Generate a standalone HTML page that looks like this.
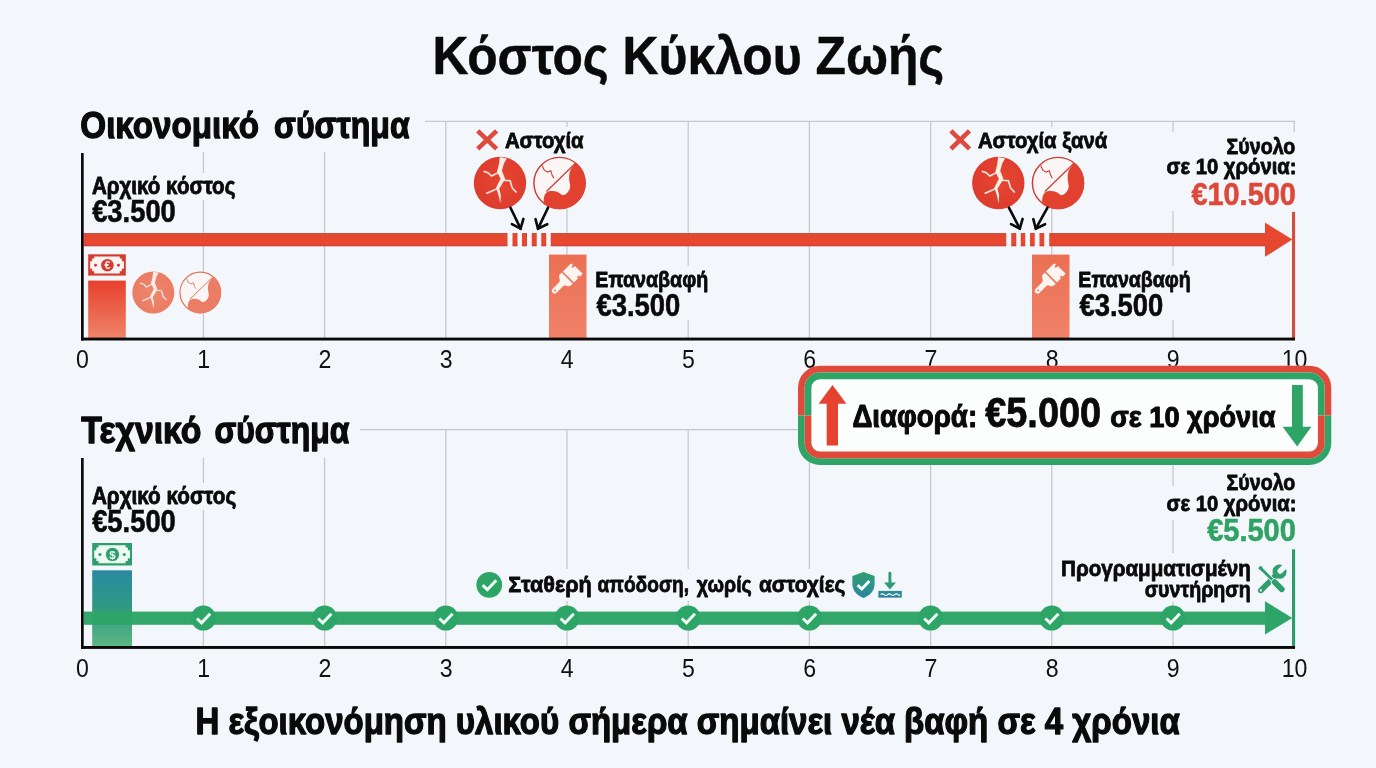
<!DOCTYPE html>
<html lang="el">
<head>
<meta charset="utf-8">
<title>Κόστος Κύκλου Ζωής</title>
<style>
html,body{margin:0;padding:0;background:#F3F6FB;}
body{width:1376px;height:768px;overflow:hidden;font-family:"Liberation Sans",sans-serif;}
svg{display:block;}
svg text{font-family:"Liberation Sans",sans-serif;}
</style>
</head>
<body>
<svg width="1376" height="768" viewBox="0 0 1376 768">
<defs>
<linearGradient id="gBar1" x1="0" y1="0" x2="0" y2="1"><stop offset="0" stop-color="#E73F2D"/><stop offset="1" stop-color="#EF8468"/></linearGradient>
<linearGradient id="gRep" x1="0" y1="0" x2="0" y2="1"><stop offset="0" stop-color="#EB6F53"/><stop offset="1" stop-color="#F08268"/></linearGradient>
<linearGradient id="gTeal" x1="0" y1="0" x2="0" y2="1"><stop offset="0" stop-color="#2B89A2"/><stop offset="0.5" stop-color="#2F9A80"/><stop offset="1" stop-color="#5DB684"/></linearGradient>
<linearGradient id="gShield" x1="0" y1="0" x2="0" y2="1"><stop offset="0" stop-color="#2FA070"/><stop offset="1" stop-color="#2C84A4"/></linearGradient>
<linearGradient id="gWater" x1="0" y1="0" x2="0" y2="1"><stop offset="0" stop-color="#2B8E92"/><stop offset="1" stop-color="#2D7D9E"/></linearGradient>
<radialGradient id="gCirc" cx="0.55" cy="0.45" r="0.6"><stop offset="0" stop-color="#E94531"/><stop offset="1" stop-color="#DB3B2E"/></radialGradient>
<radialGradient id="gCircL" cx="0.5" cy="0.5" r="0.6"><stop offset="0" stop-color="#EE866D"/><stop offset="1" stop-color="#EB7A62"/></radialGradient>
<linearGradient id="gRed" x1="0" y1="0" x2="0" y2="1"><stop offset="0" stop-color="#C9524A"/><stop offset="0.16" stop-color="#E2492F"/><stop offset="0.8" stop-color="#EA4630"/><stop offset="1" stop-color="#C8413A"/></linearGradient>
<linearGradient id="gGreen" x1="0" y1="0" x2="0" y2="1"><stop offset="0" stop-color="#2A9C62"/><stop offset="0.15" stop-color="#2CA568"/><stop offset="0.85" stop-color="#2CA568"/><stop offset="1" stop-color="#2A9C62"/></linearGradient>
<clipPath id="cTop"><rect x="780" y="350" width="580" height="65.5"/></clipPath>
<clipPath id="cBot"><rect x="780" y="415.5" width="580" height="70"/></clipPath>
</defs>
<rect x="0" y="0" width="1376" height="768" fill="#F3F6FB"/>

<g stroke="#C3C6CA" stroke-width="1.2" fill="none">
<line x1="425" y1="121.3" x2="1294.7" y2="121.3"/>
<line x1="203.4" y1="152.0" x2="203.4" y2="338"/>
<line x1="324.6" y1="152.0" x2="324.6" y2="338"/>
<line x1="445.8" y1="121.3" x2="445.8" y2="338"/>
<line x1="567.0" y1="121.3" x2="567.0" y2="338"/>
<line x1="688.2" y1="121.3" x2="688.2" y2="338"/>
<line x1="809.4" y1="121.3" x2="809.4" y2="338"/>
<line x1="930.6" y1="121.3" x2="930.6" y2="338"/>
<line x1="1051.8" y1="121.3" x2="1051.8" y2="338"/>
<line x1="1173.0" y1="121.3" x2="1173.0" y2="338"/>
<line x1="1294.2" y1="121.3" x2="1294.2" y2="338"/>
<line x1="360" y1="429.6" x2="1294.7" y2="429.6"/>
<line x1="203.4" y1="458.0" x2="203.4" y2="646"/>
<line x1="324.6" y1="458.0" x2="324.6" y2="646"/>
<line x1="445.8" y1="429.6" x2="445.8" y2="646"/>
<line x1="567.0" y1="429.6" x2="567.0" y2="646"/>
<line x1="688.2" y1="429.6" x2="688.2" y2="646"/>
<line x1="809.4" y1="429.6" x2="809.4" y2="646"/>
<line x1="930.6" y1="429.6" x2="930.6" y2="646"/>
<line x1="1051.8" y1="429.6" x2="1051.8" y2="646"/>
<line x1="1173.0" y1="429.6" x2="1173.0" y2="646"/>
</g>
<rect x="1160" y="132" width="140" height="79" fill="#F3F6FB"/>
<rect x="1160" y="486" width="140" height="34" fill="#F3F6FB"/>
<rect x="1060" y="553" width="230" height="49" fill="#F3F6FB"/>
<rect x="474" y="127" width="112" height="31" fill="#F3F6FB"/>
<rect x="947" y="127" width="164" height="31" fill="#F3F6FB"/>
<rect x="474" y="569" width="432" height="32" fill="#F3F6FB"/>
<rect x="590" y="266" width="122" height="54" fill="#F3F6FB"/>
<rect x="1073" y="266" width="122" height="54" fill="#F3F6FB"/>
<rect x="88" y="173" width="152" height="27" fill="#F3F6FB"/>
<rect x="88" y="483" width="152" height="27" fill="#F3F6FB"/>
<text x="432.40" y="73.54" font-size="52.79" font-weight="bold" fill="#0a0a0a" textLength="511.84" lengthAdjust="spacingAndGlyphs" stroke="#0a0a0a" stroke-width="0.43" stroke-linejoin="round">Κόστος Κύκλου Ζωής</text>
<text x="80.32" y="138.33" font-size="37.30" font-weight="bold" fill="#0a0a0a" textLength="178.69" lengthAdjust="spacingAndGlyphs" stroke="#0a0a0a" stroke-width="1.33" stroke-linejoin="round">Οικονομικό</text>
<text x="274.02" y="138.33" font-size="37.30" font-weight="bold" fill="#0a0a0a" textLength="135.65" lengthAdjust="spacingAndGlyphs" stroke="#0a0a0a" stroke-width="1.33" stroke-linejoin="round">σύστημα</text>
<text x="91.91" y="193.63" font-size="23.28" font-weight="bold" fill="#0a0a0a" textLength="143.48" lengthAdjust="spacingAndGlyphs" stroke="#0a0a0a" stroke-width="0.83" stroke-linejoin="round">Αρχικό κόστος</text>
<text x="92.15" y="221.86" font-size="31.05" font-weight="bold" fill="#0a0a0a" textLength="83.68" lengthAdjust="spacingAndGlyphs" stroke="#0a0a0a" stroke-width="0.57" stroke-linejoin="round">€3.500</text>
<rect x="83.50" y="233" width="424.00" height="13.3" fill="url(#gRed)"/>
<rect x="512.50" y="233" width="5.00" height="13.3" fill="url(#gRed)"/>
<rect x="522.00" y="233" width="5.00" height="13.3" fill="url(#gRed)"/>
<rect x="531.75" y="233" width="5.00" height="13.3" fill="url(#gRed)"/>
<rect x="541.25" y="233" width="5.00" height="13.3" fill="url(#gRed)"/>
<rect x="550.75" y="233" width="455.50" height="13.3" fill="url(#gRed)"/>
<rect x="1011.25" y="233" width="5.00" height="13.3" fill="url(#gRed)"/>
<rect x="1020.75" y="233" width="4.50" height="13.3" fill="url(#gRed)"/>
<rect x="1030.00" y="233" width="4.75" height="13.3" fill="url(#gRed)"/>
<rect x="1039.50" y="233" width="4.75" height="13.3" fill="url(#gRed)"/>
<rect x="1049.25" y="233" width="216.75" height="13.3" fill="url(#gRed)"/>
<polygon points="1265,222.5 1292.3,239.6 1265,256.8" fill="#E8472F"/>
<rect x="1292" y="212" width="3.1" height="127.5" fill="#D24F3E"/>
<g>
<rect x="88.20" y="254.30" width="37.60" height="21.30" fill="#D63B31"/>
<polygon points="94.22,256.43 119.78,256.43 119.78,258.60 121.85,258.60 121.85,261.14 123.92,261.14 123.92,268.76 121.85,268.76 121.85,271.30 119.78,271.30 119.78,273.47 94.22,273.47 94.22,271.30 92.15,271.30 92.15,268.76 90.08,268.76 90.08,261.14 92.15,261.14 92.15,258.60 94.22,258.60" fill="#FBF4F2"/>
<circle cx="107.38" cy="265.16" r="6.28" fill="#D63B31"/>
<circle cx="95.53" cy="265.16" r="1.49" fill="#D63B31"/>
<circle cx="118.47" cy="265.16" r="1.49" fill="#D63B31"/>
<text x="107.38" y="269.06" font-size="10.68" font-weight="bold" fill="#FBF4F2" text-anchor="middle">€</text>
</g>
<rect x="88.2" y="280.6" width="37.6" height="57.4" fill="url(#gBar1)"/>
<g transform="translate(153.30,292.50) scale(0.8077)">
<circle r="26" fill="url(#gCircL)"/>
<path d="M-0.2,-25.8 L6.7,-24.3 L3.9,-19.4 L1.9,-12.1 L5.0,-4.3 L3.9,-2 L-0.8,5.8 L0.8,12 L0.4,20.4 L-1.5,12 L-3.9,4.7 L0.6,-4.3 L-3.0,-11 L-1.1,-18.3 Z" fill="#FCEDE8"/>
<g fill="none" stroke="#FCEDE8" stroke-width="1.5" stroke-linejoin="miter">
<path d="M-1.2,-10.6 L-8.4,-6.9 L-12,-10.2 L-16.4,-11.6"/>
<path d="M3.6,-2.8 L10.1,-2.2 L12.1,4.8 L16.4,9.4"/>
<path d="M-2.6,5.6 L-8,8 L-13.6,10.4"/>
</g></g>
<g transform="translate(200.30,292.50) scale(0.8000)">
<circle r="25.4" fill="#FBF6F5" stroke="#E0705A" stroke-width="1.4"/>
<path d="M16.6,-20 L12.6,-15.4 C10,-12.6 9.4,-9 9.6,-4 C9.8,0 11.4,2.6 10.2,5.6 C9,8.6 6.4,11.6 3.8,12 C1.6,12.2 0.6,9.6 -2.4,8.6 C-5.6,7.6 -10.6,7.6 -12.9,9.4 C-15.4,11.6 -16,16 -15.6,20.8 A26,26 0 0 0 26,0 A26,26 0 0 0 16.6,-20 Z" fill="#EC7C64"/>
<path d="M15.6,-19.4 L-13,8.4" fill="none" stroke="#E0705A" stroke-width="1.2"/>
<path d="M-17.2,-17.4 L-15.1,-12.7 L-11.8,-10.8 L-8.6,-12.2 L-7.3,-7.6 L-5.6,-4.8" fill="none" stroke="#E0705A" stroke-width="1.1"/>
</g>
<path d="M477.70,130.90 L496.60,148.80 M496.60,130.90 L477.70,148.80" stroke="#DE4A3E" stroke-width="4.6" fill="none"/>
<text x="504.91" y="147.89" font-size="22.94" font-weight="bold" fill="#0a0a0a" textLength="78.63" lengthAdjust="spacingAndGlyphs" stroke="#0a0a0a" stroke-width="0.82" stroke-linejoin="round">Αστοχία</text>
<g transform="translate(500.00,183.00) scale(1.0077)">
<circle r="26" fill="url(#gCirc)"/>
<path d="M-0.2,-25.8 L6.7,-24.3 L3.9,-19.4 L1.9,-12.1 L5.0,-4.3 L3.9,-2 L-0.8,5.8 L0.8,12 L0.4,20.4 L-1.5,12 L-3.9,4.7 L0.6,-4.3 L-3.0,-11 L-1.1,-18.3 Z" fill="#FCEFE6"/>
<g fill="none" stroke="#FCEFE6" stroke-width="1.5" stroke-linejoin="miter">
<path d="M-1.2,-10.6 L-8.4,-6.9 L-12,-10.2 L-16.4,-11.6"/>
<path d="M3.6,-2.8 L10.1,-2.2 L12.1,4.8 L16.4,9.4"/>
<path d="M-2.6,5.6 L-8,8 L-13.6,10.4"/>
</g></g>
<g transform="translate(559.50,183.00) scale(1.0077)">
<circle r="25.4" fill="#FBF6F5" stroke="#CC3A30" stroke-width="1.4"/>
<path d="M16.6,-20 L12.6,-15.4 C10,-12.6 9.4,-9 9.6,-4 C9.8,0 11.4,2.6 10.2,5.6 C9,8.6 6.4,11.6 3.8,12 C1.6,12.2 0.6,9.6 -2.4,8.6 C-5.6,7.6 -10.6,7.6 -12.9,9.4 C-15.4,11.6 -16,16 -15.6,20.8 A26,26 0 0 0 26,0 A26,26 0 0 0 16.6,-20 Z" fill="#E2412F"/>
<path d="M15.6,-19.4 L-13,8.4" fill="none" stroke="#CC3A30" stroke-width="1.2"/>
<path d="M-17.2,-17.4 L-15.1,-12.7 L-11.8,-10.8 L-8.6,-12.2 L-7.3,-7.6 L-5.6,-4.8" fill="none" stroke="#CC3A30" stroke-width="1.1"/>
</g>
<g fill="none" stroke="#0a0a0a" stroke-width="2.6" stroke-linecap="round" stroke-linejoin="miter">
<path d="M510.50,207.70 L520.60,228.60"/>
<path d="M511.90,224.20 L520.60,228.60 L523.40,218.90"/>
</g>
<g fill="none" stroke="#0a0a0a" stroke-width="2.6" stroke-linecap="round" stroke-linejoin="miter">
<path d="M548.00,207.70 L538.00,228.60"/>
<path d="M535.50,219.20 L538.00,228.60 L547.30,224.20"/>
</g>
<rect x="549" y="254.6" width="37.5" height="83.4" fill="url(#gRep)"/>
<g transform="translate(567.70,277.70) rotate(45)" fill="#FDF3EF">
<path d="M-7.8,-1 L-7.8,-11.5 L-6.2,-13.6 L-4.6,-10.4 L-3.2,-10.4 L-3.2,-13.4 L7.8,-13.4 L7.8,-9 L6,-9 L6,-7 L7.8,-7 L7.8,-1 Z"/>
<path d="M-7.8,0.6 L7.8,0.6 L7.8,3.4 C7.8,6.4 3.2,6.2 2.8,9 L2.8,18.4 A2.8,2.8 0 0 1 -2.8,18.4 L-2.8,9 C-3.2,6.2 -7.8,6.4 -7.8,3.4 Z"/>
<circle cx="0" cy="17.8" r="0.9" fill="#E8674C"/>
</g>
<text x="595.35" y="287.39" font-size="22.66" font-weight="bold" fill="#0a0a0a" textLength="112.96" lengthAdjust="spacingAndGlyphs" stroke="#0a0a0a" stroke-width="0.81" stroke-linejoin="round">Επαναβαφή</text>
<text x="596.40" y="315.62" font-size="30.77" font-weight="bold" fill="#0a0a0a" textLength="83.94" lengthAdjust="spacingAndGlyphs" stroke="#0a0a0a" stroke-width="0.57" stroke-linejoin="round">€3.500</text>
<path d="M950.90,130.90 L969.50,148.80 M969.50,130.90 L950.90,148.80" stroke="#DE4A3E" stroke-width="4.6" fill="none"/>
<text x="977.91" y="147.89" font-size="22.94" font-weight="bold" fill="#0a0a0a" textLength="129.39" lengthAdjust="spacingAndGlyphs" stroke="#0a0a0a" stroke-width="0.82" stroke-linejoin="round">Αστοχία ξανά</text>
<g transform="translate(998.30,183.00) scale(1.0077)">
<circle r="26" fill="url(#gCirc)"/>
<path d="M-0.2,-25.8 L6.7,-24.3 L3.9,-19.4 L1.9,-12.1 L5.0,-4.3 L3.9,-2 L-0.8,5.8 L0.8,12 L0.4,20.4 L-1.5,12 L-3.9,4.7 L0.6,-4.3 L-3.0,-11 L-1.1,-18.3 Z" fill="#FCEFE6"/>
<g fill="none" stroke="#FCEFE6" stroke-width="1.5" stroke-linejoin="miter">
<path d="M-1.2,-10.6 L-8.4,-6.9 L-12,-10.2 L-16.4,-11.6"/>
<path d="M3.6,-2.8 L10.1,-2.2 L12.1,4.8 L16.4,9.4"/>
<path d="M-2.6,5.6 L-8,8 L-13.6,10.4"/>
</g></g>
<g transform="translate(1058.00,183.00) scale(1.0077)">
<circle r="25.4" fill="#FBF6F5" stroke="#CC3A30" stroke-width="1.4"/>
<path d="M16.6,-20 L12.6,-15.4 C10,-12.6 9.4,-9 9.6,-4 C9.8,0 11.4,2.6 10.2,5.6 C9,8.6 6.4,11.6 3.8,12 C1.6,12.2 0.6,9.6 -2.4,8.6 C-5.6,7.6 -10.6,7.6 -12.9,9.4 C-15.4,11.6 -16,16 -15.6,20.8 A26,26 0 0 0 26,0 A26,26 0 0 0 16.6,-20 Z" fill="#E2412F"/>
<path d="M15.6,-19.4 L-13,8.4" fill="none" stroke="#CC3A30" stroke-width="1.2"/>
<path d="M-17.2,-17.4 L-15.1,-12.7 L-11.8,-10.8 L-8.6,-12.2 L-7.3,-7.6 L-5.6,-4.8" fill="none" stroke="#CC3A30" stroke-width="1.1"/>
</g>
<g fill="none" stroke="#0a0a0a" stroke-width="2.6" stroke-linecap="round" stroke-linejoin="miter">
<path d="M1008.90,207.70 L1019.80,228.60"/>
<path d="M1011.10,224.20 L1019.80,228.60 L1022.60,218.90"/>
</g>
<g fill="none" stroke="#0a0a0a" stroke-width="2.6" stroke-linecap="round" stroke-linejoin="miter">
<path d="M1047.50,207.70 L1035.80,228.60"/>
<path d="M1033.30,219.20 L1035.80,228.60 L1045.10,224.20"/>
</g>
<rect x="1032" y="254.6" width="37.5" height="83.4" fill="url(#gRep)"/>
<g transform="translate(1050.70,277.70) rotate(45)" fill="#FDF3EF">
<path d="M-7.8,-1 L-7.8,-11.5 L-6.2,-13.6 L-4.6,-10.4 L-3.2,-10.4 L-3.2,-13.4 L7.8,-13.4 L7.8,-9 L6,-9 L6,-7 L7.8,-7 L7.8,-1 Z"/>
<path d="M-7.8,0.6 L7.8,0.6 L7.8,3.4 C7.8,6.4 3.2,6.2 2.8,9 L2.8,18.4 A2.8,2.8 0 0 1 -2.8,18.4 L-2.8,9 C-3.2,6.2 -7.8,6.4 -7.8,3.4 Z"/>
<circle cx="0" cy="17.8" r="0.9" fill="#E8674C"/>
</g>
<text x="1078.35" y="287.39" font-size="22.66" font-weight="bold" fill="#0a0a0a" textLength="112.45" lengthAdjust="spacingAndGlyphs" stroke="#0a0a0a" stroke-width="0.81" stroke-linejoin="round">Επαναβαφή</text>
<text x="1079.40" y="315.62" font-size="30.77" font-weight="bold" fill="#0a0a0a" textLength="83.94" lengthAdjust="spacingAndGlyphs" stroke="#0a0a0a" stroke-width="0.57" stroke-linejoin="round">€3.500</text>
<text x="1226.54" y="153.65" font-size="22.59" font-weight="bold" fill="#0a0a0a" textLength="68.82" lengthAdjust="spacingAndGlyphs" stroke="#0a0a0a" stroke-width="0.81" stroke-linejoin="round">Σύνολο</text>
<text x="1166.61" y="174.40" font-size="22.59" font-weight="bold" fill="#0a0a0a" textLength="129.93" lengthAdjust="spacingAndGlyphs" stroke="#0a0a0a" stroke-width="0.81" stroke-linejoin="round">σε 10 χρόνια:</text>
<text x="1191.40" y="204.61" font-size="31.39" font-weight="bold" fill="#DF4738" textLength="104.50" lengthAdjust="spacingAndGlyphs" stroke="#DF4738" stroke-width="0.58" stroke-linejoin="round">€10.500</text>
<rect x="81" y="153" width="2.7" height="187.5" fill="#0a0a0a"/>
<rect x="81" y="337.6" width="1214" height="2.9" fill="#0a0a0a"/>
<text x="82.50" y="368.10" font-size="24.86" fill="#111" text-anchor="middle" textLength="12.86" lengthAdjust="spacingAndGlyphs">0</text>
<text x="203.70" y="368.10" font-size="24.86" fill="#111" text-anchor="middle" textLength="12.86" lengthAdjust="spacingAndGlyphs">1</text>
<text x="324.90" y="368.10" font-size="24.86" fill="#111" text-anchor="middle" textLength="12.86" lengthAdjust="spacingAndGlyphs">2</text>
<text x="446.10" y="368.10" font-size="24.86" fill="#111" text-anchor="middle" textLength="12.86" lengthAdjust="spacingAndGlyphs">3</text>
<text x="567.30" y="368.10" font-size="24.86" fill="#111" text-anchor="middle" textLength="12.86" lengthAdjust="spacingAndGlyphs">4</text>
<text x="688.50" y="368.10" font-size="24.86" fill="#111" text-anchor="middle" textLength="12.86" lengthAdjust="spacingAndGlyphs">5</text>
<text x="809.70" y="368.10" font-size="24.86" fill="#111" text-anchor="middle" textLength="12.86" lengthAdjust="spacingAndGlyphs">6</text>
<text x="930.90" y="368.10" font-size="24.86" fill="#111" text-anchor="middle" textLength="12.86" lengthAdjust="spacingAndGlyphs">7</text>
<text x="1052.10" y="368.10" font-size="24.86" fill="#111" text-anchor="middle" textLength="12.86" lengthAdjust="spacingAndGlyphs">8</text>
<text x="1173.30" y="368.10" font-size="24.86" fill="#111" text-anchor="middle" textLength="12.86" lengthAdjust="spacingAndGlyphs">9</text>
<text x="1294.50" y="368.10" font-size="24.86" fill="#111" text-anchor="middle" textLength="25.71" lengthAdjust="spacingAndGlyphs">10</text>
<rect x="798.00" y="365.80" width="533.30" height="99.20" rx="22" fill="#FCFDFD"/>
<rect x="801.35" y="369.15" width="526.60" height="92.50" rx="18.65" fill="none" stroke="#E04A3A" stroke-width="6.70" clip-path="url(#cTop)"/>
<rect x="801.35" y="369.15" width="526.60" height="92.50" rx="18.65" fill="none" stroke="#2FA467" stroke-width="6.70" clip-path="url(#cBot)"/>
<rect x="808.05" y="375.85" width="513.20" height="79.10" rx="11.95" fill="none" stroke="#2FA467" stroke-width="6.70" clip-path="url(#cTop)"/>
<rect x="808.05" y="375.85" width="513.20" height="79.10" rx="11.95" fill="none" stroke="#E04A3A" stroke-width="6.70" clip-path="url(#cBot)"/>
<polygon points="832.5,385 846.4,403.8 838,403.8 838,445.5 826.7,445.5 826.7,403.8 818.6,403.8" fill="#E5432F"/>
<polygon points="1292,385 1302.8,385 1302.8,426.8 1311.4,426.8 1297.2,446.4 1282.6,426.8 1292,426.8" fill="#2FA467"/>
<text x="852.43" y="426.65" font-size="30.67" font-weight="bold" fill="#0a0a0a" textLength="124.69" lengthAdjust="spacingAndGlyphs" stroke="#0a0a0a" stroke-width="1.10" stroke-linejoin="round">Διαφορά:</text>
<text x="985.21" y="427.00" font-size="43.24" font-weight="bold" fill="#0a0a0a" textLength="115.94" lengthAdjust="spacingAndGlyphs" stroke="#0a0a0a" stroke-width="0.80" stroke-linejoin="round">€5.000</text>
<text x="1110.22" y="426.67" font-size="29.78" font-weight="bold" fill="#0a0a0a" textLength="165.28" lengthAdjust="spacingAndGlyphs" stroke="#0a0a0a" stroke-width="1.06" stroke-linejoin="round">σε 10 χρόνια</text>
<text x="81.29" y="443.09" font-size="36.96" font-weight="bold" fill="#0a0a0a" textLength="120.13" lengthAdjust="spacingAndGlyphs" stroke="#0a0a0a" stroke-width="1.32" stroke-linejoin="round">Τεχνικό</text>
<text x="214.41" y="443.09" font-size="36.96" font-weight="bold" fill="#0a0a0a" textLength="135.05" lengthAdjust="spacingAndGlyphs" stroke="#0a0a0a" stroke-width="1.32" stroke-linejoin="round">σύστημα</text>
<text x="91.91" y="503.63" font-size="23.28" font-weight="bold" fill="#0a0a0a" textLength="144.23" lengthAdjust="spacingAndGlyphs" stroke="#0a0a0a" stroke-width="0.83" stroke-linejoin="round">Αρχικό κόστος</text>
<text x="92.15" y="532.12" font-size="30.77" font-weight="bold" fill="#0a0a0a" textLength="83.69" lengthAdjust="spacingAndGlyphs" stroke="#0a0a0a" stroke-width="0.57" stroke-linejoin="round">€5.500</text>
<g>
<rect x="92.20" y="543.00" width="39.80" height="22.50" fill="#2D9F6C"/>
<polygon points="98.57,545.25 125.63,545.25 125.63,547.54 127.82,547.54 127.82,550.22 130.01,550.22 130.01,558.28 127.82,558.28 127.82,560.96 125.63,560.96 125.63,563.25 98.57,563.25 98.57,560.96 96.38,560.96 96.38,558.28 94.19,558.28 94.19,550.22 96.38,550.22 96.38,547.54 98.57,547.54" fill="#EDFAF4"/>
<circle cx="112.50" cy="554.48" r="6.64" fill="#2D9F6C"/>
<circle cx="99.96" cy="554.48" r="1.58" fill="#2D9F6C"/>
<circle cx="124.24" cy="554.48" r="1.58" fill="#2D9F6C"/>
<text x="112.50" y="558.59" font-size="11.28" font-weight="bold" fill="#EDFAF4" text-anchor="middle">$</text>
</g>
<rect x="92.2" y="570.3" width="39.8" height="76" fill="url(#gTeal)"/>
<rect x="83.7" y="611.6" width="1182.3" height="13.2" fill="#2DA566" opacity="0.97"/>
<polygon points="1265,601.3 1292.3,618 1265,634.4" fill="#2DA566"/>
<rect x="1292" y="549.3" width="3.1" height="99" fill="#2E9E68"/>
<circle cx="203.40" cy="618.10" r="12.50" fill="#2DA566"/>
<path d="M197.00,618.49 L201.56,622.85 L210.18,613.64" fill="none" stroke="#F0FFF8" stroke-width="2.91" stroke-linejoin="miter"/>
<circle cx="324.60" cy="618.10" r="12.50" fill="#2DA566"/>
<path d="M318.20,618.49 L322.76,622.85 L331.38,613.64" fill="none" stroke="#F0FFF8" stroke-width="2.91" stroke-linejoin="miter"/>
<circle cx="445.80" cy="618.10" r="12.50" fill="#2DA566"/>
<path d="M439.40,618.49 L443.96,622.85 L452.58,613.64" fill="none" stroke="#F0FFF8" stroke-width="2.91" stroke-linejoin="miter"/>
<circle cx="567.00" cy="618.10" r="12.50" fill="#2DA566"/>
<path d="M560.60,618.49 L565.16,622.85 L573.78,613.64" fill="none" stroke="#F0FFF8" stroke-width="2.91" stroke-linejoin="miter"/>
<circle cx="688.20" cy="618.10" r="12.50" fill="#2DA566"/>
<path d="M681.80,618.49 L686.36,622.85 L694.98,613.64" fill="none" stroke="#F0FFF8" stroke-width="2.91" stroke-linejoin="miter"/>
<circle cx="809.40" cy="618.10" r="12.50" fill="#2DA566"/>
<path d="M803.00,618.49 L807.56,622.85 L816.18,613.64" fill="none" stroke="#F0FFF8" stroke-width="2.91" stroke-linejoin="miter"/>
<circle cx="930.60" cy="618.10" r="12.50" fill="#2DA566"/>
<path d="M924.20,618.49 L928.76,622.85 L937.38,613.64" fill="none" stroke="#F0FFF8" stroke-width="2.91" stroke-linejoin="miter"/>
<circle cx="1051.80" cy="618.10" r="12.50" fill="#2DA566"/>
<path d="M1045.40,618.49 L1049.96,622.85 L1058.58,613.64" fill="none" stroke="#F0FFF8" stroke-width="2.91" stroke-linejoin="miter"/>
<circle cx="1173.00" cy="618.10" r="12.50" fill="#2DA566"/>
<path d="M1166.60,618.49 L1171.16,622.85 L1179.78,613.64" fill="none" stroke="#F0FFF8" stroke-width="2.91" stroke-linejoin="miter"/>
<circle cx="489.25" cy="584.80" r="12.90" fill="#2DA566"/>
<path d="M482.65,585.20 L487.35,589.70 L496.25,580.20" fill="none" stroke="#F0FFF8" stroke-width="3.00" stroke-linejoin="miter"/>
<text x="508.37" y="592.39" font-size="22.94" font-weight="bold" fill="#0a0a0a" textLength="83.44" lengthAdjust="spacingAndGlyphs" stroke="#0a0a0a" stroke-width="0.82" stroke-linejoin="round">Σταθερή</text>
<text x="597.56" y="592.39" font-size="22.94" font-weight="bold" fill="#0a0a0a" textLength="91.41" lengthAdjust="spacingAndGlyphs" stroke="#0a0a0a" stroke-width="0.82" stroke-linejoin="round">απόδοση,</text>
<text x="696.69" y="592.39" font-size="22.94" font-weight="bold" fill="#0a0a0a" textLength="55.07" lengthAdjust="spacingAndGlyphs" stroke="#0a0a0a" stroke-width="0.82" stroke-linejoin="round">χωρίς</text>
<text x="759.01" y="592.39" font-size="22.94" font-weight="bold" fill="#0a0a0a" textLength="86.40" lengthAdjust="spacingAndGlyphs" stroke="#0a0a0a" stroke-width="0.82" stroke-linejoin="round">αστοχίες</text>
<path d="M863.5,571.9 L874.6,576 L874.6,584 C874.6,591 869.5,595.8 863.5,598 C857.5,595.8 852.4,591 852.4,584 L852.4,576 Z" fill="url(#gShield)"/>
<path d="M857.6,585.2 L861.8,588.9 L869.4,580.9" fill="none" stroke="#F4FFFB" stroke-width="2.9"/>
<path d="M889.9,573.2 L889.9,584" stroke="#2E9C72" stroke-width="2.9" stroke-linecap="round" fill="none"/>
<polygon points="884,582.6 895.9,582.6 889.9,589.6" fill="#2E9C72"/>
<rect x="878.4" y="590.9" width="23.4" height="6.7" fill="url(#gWater)"/>
<path d="M880.6,594.6 q1.75,-1.6 3.5,0 t3.5,0 t3.5,0 t3.5,0 t3.5,0 t1.75,0" fill="none" stroke="#F3FBFD" stroke-width="1.2"/>
<text x="1226.54" y="489.90" font-size="22.59" font-weight="bold" fill="#0a0a0a" textLength="68.82" lengthAdjust="spacingAndGlyphs" stroke="#0a0a0a" stroke-width="0.81" stroke-linejoin="round">Σύνολο</text>
<text x="1166.61" y="511.15" font-size="22.59" font-weight="bold" fill="#0a0a0a" textLength="129.93" lengthAdjust="spacingAndGlyphs" stroke="#0a0a0a" stroke-width="0.81" stroke-linejoin="round">σε 10 χρόνια:</text>
<text x="1207.15" y="540.61" font-size="31.39" font-weight="bold" fill="#2FA364" textLength="88.75" lengthAdjust="spacingAndGlyphs" stroke="#2FA364" stroke-width="0.58" stroke-linejoin="round">€5.500</text>
<text x="1061.02" y="576.15" font-size="22.24" font-weight="bold" fill="#0a0a0a" textLength="189.86" lengthAdjust="spacingAndGlyphs" stroke="#0a0a0a" stroke-width="0.80" stroke-linejoin="round">Προγραμματισμένη</text>
<text x="1144.63" y="597.40" font-size="22.24" font-weight="bold" fill="#0a0a0a" textLength="106.19" lengthAdjust="spacingAndGlyphs" stroke="#0a0a0a" stroke-width="0.80" stroke-linejoin="round">συντήρηση</text>
<g transform="translate(1260.8,590.4) rotate(45)">
<path d="M-2.8,0 A2.8,2.8 0 0 0 2.8,0 L2.8,-21 L-2.8,-21 Z" fill="#2E9E6C"/>
<circle cx="0" cy="-0.1" r="1.15" fill="#F3F6FB"/>
<path d="M-2.7,-27.4 L-2.7,-33.1 A7.1,7.1 0 1 0 2.7,-33.1 L2.7,-27.4 A2.7,2.7 0 0 1 -2.7,-27.4 Z" fill="#2E9E6C"/>
</g>
<g transform="translate(1259.6,567.1) rotate(-45)">
<path d="M-2.1,0.6 Q0,-1.6 2.1,0.6 L1.4,4 L1.4,19 L-1.4,19 L-1.4,4 Z" fill="#2E9E6C" stroke="#F3F6FB" stroke-width="1.6" paint-order="stroke"/>
<rect x="-2.85" y="18.4" width="5.7" height="15.8" rx="2.7" fill="#2E9E6C" stroke="#F3F6FB" stroke-width="1.6" paint-order="stroke"/>
</g>
<rect x="81" y="458" width="2.7" height="191" fill="#0a0a0a"/>
<rect x="81" y="646" width="1214" height="2.9" fill="#0a0a0a"/>
<text x="82.50" y="677.30" font-size="24.86" fill="#111" text-anchor="middle" textLength="12.86" lengthAdjust="spacingAndGlyphs">0</text>
<text x="203.70" y="677.30" font-size="24.86" fill="#111" text-anchor="middle" textLength="12.86" lengthAdjust="spacingAndGlyphs">1</text>
<text x="324.90" y="677.30" font-size="24.86" fill="#111" text-anchor="middle" textLength="12.86" lengthAdjust="spacingAndGlyphs">2</text>
<text x="446.10" y="677.30" font-size="24.86" fill="#111" text-anchor="middle" textLength="12.86" lengthAdjust="spacingAndGlyphs">3</text>
<text x="567.30" y="677.30" font-size="24.86" fill="#111" text-anchor="middle" textLength="12.86" lengthAdjust="spacingAndGlyphs">4</text>
<text x="688.50" y="677.30" font-size="24.86" fill="#111" text-anchor="middle" textLength="12.86" lengthAdjust="spacingAndGlyphs">5</text>
<text x="809.70" y="677.30" font-size="24.86" fill="#111" text-anchor="middle" textLength="12.86" lengthAdjust="spacingAndGlyphs">6</text>
<text x="930.90" y="677.30" font-size="24.86" fill="#111" text-anchor="middle" textLength="12.86" lengthAdjust="spacingAndGlyphs">7</text>
<text x="1052.10" y="677.30" font-size="24.86" fill="#111" text-anchor="middle" textLength="12.86" lengthAdjust="spacingAndGlyphs">8</text>
<text x="1173.30" y="677.30" font-size="24.86" fill="#111" text-anchor="middle" textLength="12.86" lengthAdjust="spacingAndGlyphs">9</text>
<text x="1294.50" y="677.30" font-size="24.86" fill="#111" text-anchor="middle" textLength="25.71" lengthAdjust="spacingAndGlyphs">10</text>
<text x="195.47" y="733.83" font-size="37.30" font-weight="bold" fill="#0a0a0a" textLength="984.20" lengthAdjust="spacingAndGlyphs" stroke="#0a0a0a" stroke-width="1.33" stroke-linejoin="round">Η εξοικονόμηση υλικού σήμερα σημαίνει νέα βαφή σε 4 χρόνια</text>
</svg>
</body>
</html>
